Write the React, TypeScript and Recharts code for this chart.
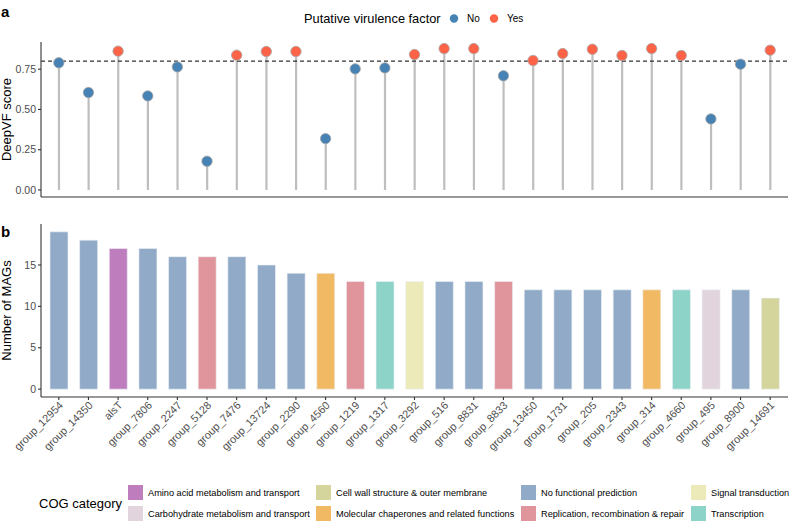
import React from "react";
import {
  ComposedChart,
  BarChart,
  Bar,
  Scatter,
  XAxis,
  YAxis,
  ReferenceLine,
  Cell,
  Legend,
} from "recharts";

// genes in plotted order
const genes = [
  "group_12954", "group_14350", "alsT", "group_7806", "group_2247",
  "group_5128", "group_7476", "group_13724", "group_2290", "group_4560",
  "group_1219", "group_1317", "group_3292", "group_516", "group_8831",
  "group_8833", "group_13450", "group_1731", "group_205", "group_2343",
  "group_314", "group_4660", "group_495", "group_8900", "group_14691",
];

const deepvfScores = [
  0.79, 0.605, 0.862, 0.584, 0.764, 0.178, 0.837, 0.86, 0.86, 0.319,
  0.752, 0.758, 0.841, 0.878, 0.878, 0.709, 0.804, 0.847, 0.874, 0.835,
  0.878, 0.835, 0.441, 0.781, 0.868,
];

const virulence = [
  "No", "No", "Yes", "No", "No", "No", "Yes", "Yes", "Yes", "No",
  "No", "No", "Yes", "Yes", "Yes", "No", "Yes", "Yes", "Yes", "Yes",
  "Yes", "Yes", "No", "No", "Yes",
];

const magCounts = [
  19, 18, 17, 17, 16, 16, 16, 15, 14, 14, 13, 13, 13, 13, 13, 13,
  12, 12, 12, 12, 12, 12, 12, 12, 11,
];

const cogCategories = [
  "No functional prediction", "No functional prediction", "Amino acid metabolism and transport",
  "No functional prediction", "No functional prediction", "Replication, recombination & repair",
  "No functional prediction", "No functional prediction", "No functional prediction",
  "Molecular chaperones and related functions", "Replication, recombination & repair",
  "Transcription", "Signal transduction", "No functional prediction", "No functional prediction",
  "Replication, recombination & repair", "No functional prediction", "No functional prediction",
  "No functional prediction", "No functional prediction", "Molecular chaperones and related functions",
  "Transcription", "Carbohydrate metabolism and transport", "No functional prediction",
  "Cell wall structure & outer membrane",
];

const cogLegendOrder = [
  "Amino acid metabolism and transport",
  "Carbohydrate metabolism and transport",
  "Cell wall structure & outer membrane",
  "Molecular chaperones and related functions",
  "No functional prediction",
  "Replication, recombination & repair",
  "Signal transduction",
  "Transcription",
];

const cogColors: Record<string, string> = {
  "Amino acid metabolism and transport": "#BE7DBC",
  "Carbohydrate metabolism and transport": "#E1D4DC",
  "Cell wall structure & outer membrane": "#D3D59C",
  "Molecular chaperones and related functions": "#F2B964",
  "No functional prediction": "#90AAC7",
  "Replication, recombination & repair": "#E0959C",
  "Signal transduction": "#EDEABA",
  "Transcription": "#8DD3C7",
};

const virulenceColors: Record<string, string> = { No: "#4682B4", Yes: "#FF6347" };

const scoreTicks = [0, 0.25, 0.5, 0.75];
const countTicks = [0, 5, 10, 15];

const scoreData = genes.map((g, i) => ({ gene: g, score: deepvfScores[i], vf: virulence[i] }));
const countData = genes.map((g, i) => ({ gene: g, count: magCounts[i], cog: cogCategories[i] }));

const FONT = "'Liberation Sans', Arial, Helvetica, sans-serif";
const AXIS = { stroke: "#333", strokeWidth: 1.1 };
const TICK_TEXT = { fontSize: 10.5, fill: "#4d4d4d", fontFamily: FONT };

const AxisTitle = (props: any) => {
  const { viewBox, text, letter, letterY } = props;
  const cy = viewBox ? viewBox.y + viewBox.height / 2 : 120;
  return (
    <g>
      <text x={1} y={letterY} fontSize={15} fontWeight="bold" fill="#000" fontFamily={FONT}>
        {letter}
      </text>
      <text
        x={11}
        y={cy}
        transform={`rotate(-90 11 ${cy})`}
        textAnchor="middle"
        fontSize={13}
        fill="#000"
        fontFamily={FONT}
      >
        {text}
      </text>
    </g>
  );
};

const AngledTick = (props: any) => {
  const { x, y, payload } = props;
  return (
    <text
      x={x}
      y={y}
      dy={7}
      textAnchor="end"
      transform={`rotate(-45 ${x} ${y})`}
      fontSize={10.8}
      fill="#4d4d4d"
      fontFamily={FONT}
    >
      {payload.value}
    </text>
  );
};

const Stem = (props: any) => {
  const { x, y, width, height } = props;
  if (height == null || height <= 0) return null;
  return <rect x={x + width / 2 - 1.1} y={y} width={2.2} height={height} fill="#BEBEBE" />;
};

const Dot = (props: any) => {
  const { cx, cy, payload } = props;
  return (
    <circle cx={cx} cy={cy} r={5.2} fill={virulenceColors[payload.vf]} stroke="#a8a8a8" strokeWidth={0.8} />
  );
};

const VirulenceLegend = () => (
  <svg width={795} height={32} style={{ fontFamily: FONT, display: "block" }}>
    <text x={304} y={22.5} fontSize={12.8} fill="#000">Putative virulence factor</text>
    {["No", "Yes"].map((k, i) => (
      <g key={k}>
        <circle cx={454 + i * 40} cy={18.5} r={4.2} fill={virulenceColors[k]} />
        <text x={467 + i * 40} y={22} fontSize={10} fill="#000">{k}</text>
      </g>
    ))}
  </svg>
);

const CogLegend = () => {
  const colX = [128, 316, 521, 691];
  return (
    <svg width={795} height={50} style={{ fontFamily: FONT, display: "block" }}>
      <text x={39} y={28} fontSize={13} fill="#000">COG category</text>
      {cogLegendOrder.map((c, i) => {
        const col = Math.floor(i / 2);
        const row = i % 2;
        const kx = colX[col];
        const ky = 5 + row * 21;
        return (
          <g key={c}>
            <rect x={kx} y={ky} width={15} height={15} fill={cogColors[c]} />
            <text x={kx + 20} y={ky + 11} fontSize={9.2} fill="#000">{c}</text>
          </g>
        );
      })}
    </svg>
  );
};

export default function App() {
  return (
    <div
      style={{
        position: "absolute",
        left: 0,
        top: 0,
        width: 795,
        height: 532,
        background: "#fff",
        fontFamily: FONT,
      }}
    >
      <div style={{ position: "absolute", left: 0, top: 0 }}>
        <ComposedChart width={795} height={200} data={scoreData} margin={{ top: 42, right: 7, bottom: 0, left: 0 }}>
          <XAxis
            dataKey="gene"
            tick={false}
            tickLine={false}
            axisLine={AXIS}
            height={3}
            padding={{ left: 3, right: 3 }}
          />
          <YAxis
            width={41}
            domain={[-0.04375, 0.91875]}
            ticks={scoreTicks}
            tickFormatter={(v: number) => v.toFixed(2)}
            tick={TICK_TEXT}
            tickSize={3}
            tickMargin={2}
            axisLine={AXIS}
            tickLine={AXIS}
            allowDataOverflow
            label={<AxisTitle text="DeepVF score" letter="a" letterY={17} />}
          />
          <Legend
            layout="horizontal"
            verticalAlign="middle"
            align="center"
            wrapperStyle={{ top: 0, left: 0, width: 795, height: 32 }}
            content={() => <VirulenceLegend />}
          />
          <Bar dataKey="score" shape={<Stem />} isAnimationActive={false} legendType="none" />
          <ReferenceLine y={0.8} stroke="#000" strokeDasharray="4 3" strokeWidth={1} />
          <Scatter dataKey="score" shape={<Dot />} isAnimationActive={false} legendType="none" />
        </ComposedChart>
      </div>
      <div style={{ position: "absolute", left: 0, top: 200 }}>
        <BarChart width={795} height={332} data={countData} margin={{ top: 24, right: 7, bottom: 65, left: 0 }}>
          <XAxis
            dataKey="gene"
            interval={0}
            tick={<AngledTick />}
            tickSize={3}
            tickMargin={1}
            axisLine={AXIS}
            tickLine={AXIS}
            height={70}
            padding={{ left: 3, right: 3 }}
          />
          <YAxis
            width={41}
            domain={[-0.95, 19.95]}
            ticks={countTicks}
            tick={TICK_TEXT}
            tickSize={3}
            tickMargin={2}
            axisLine={AXIS}
            tickLine={AXIS}
            allowDataOverflow
            label={<AxisTitle text="Number of MAGs" letter="b" letterY={37} />}
          />
          <Legend
            layout="horizontal"
            verticalAlign="middle"
            align="center"
            wrapperStyle={{ top: 280, left: 0, width: 795, height: 50 }}
            content={() => <CogLegend />}
          />
          <Bar dataKey="count" barSize={18} isAnimationActive={false} legendType="none">
            {countData.map((d, i) => (
              <Cell key={i} fill={cogColors[d.cog]} stroke="#eef2f7" strokeWidth={0.6} />
            ))}
          </Bar>
        </BarChart>
      </div>
    </div>
  );
}
